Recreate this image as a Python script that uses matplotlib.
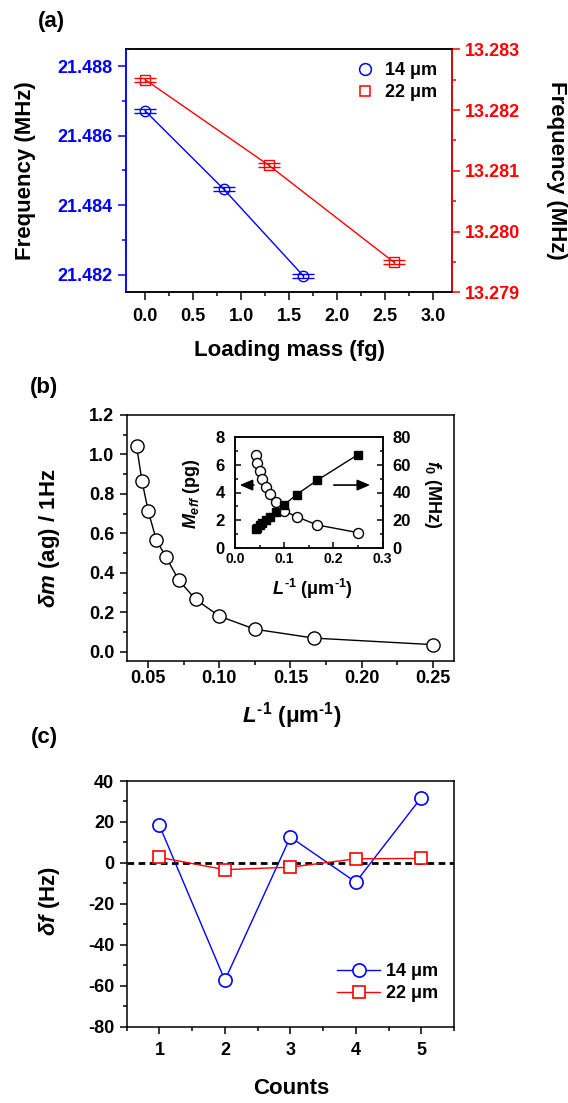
import matplotlib
matplotlib.use("Agg")
import matplotlib.pyplot as plt
from matplotlib.lines import Line2D
from matplotlib.ticker import MultipleLocator, FormatStrFormatter

plt.rcParams['font.family'] = ['Liberation Sans', 'DejaVu Sans']
plt.rcParams['font.weight'] = 'bold'
plt.rcParams['mathtext.fontset'] = 'custom'
plt.rcParams['mathtext.rm'] = 'Liberation Sans:bold'
plt.rcParams['mathtext.it'] = 'Liberation Sans:italic:bold'
plt.rcParams['mathtext.bf'] = 'Liberation Sans:bold'
plt.rcParams['axes.linewidth'] = 1.1
plt.rcParams['axes.unicode_minus'] = False

# ---- data ----
# (a) frequency vs loading mass
mass_14 = [0.0, 0.82, 1.65]
freq_14 = [21.48671, 21.48446, 21.48197]
mass_22 = [0.0, 1.29, 2.59]
freq_22 = [13.28250, 13.28109, 13.27950]
err_14 = 0.00006
err_22 = 0.000033

# (b) mass resolution vs inverse length
inv_len = [0.0417, 0.0455, 0.05, 0.0556, 0.0625, 0.0714, 0.0833, 0.1, 0.125, 0.1667, 0.25]
dm = [1.045, 0.867, 0.711, 0.567, 0.479, 0.363, 0.265, 0.180, 0.114, 0.069, 0.036]
m_eff = [6.72, 6.11, 5.56, 5.00, 4.42, 3.87, 3.31, 2.66, 2.25, 1.65, 1.09]
f0 = [13.2, 14.6, 16.2, 17.9, 20.1, 22.6, 25.7, 31.0, 38.5, 48.8, 67.5]

# (c) frequency shift per count
counts = [1, 2, 3, 4, 5]
df_14 = [18.3, -57.3, 12.6, -9.4, 31.9]
df_22 = [2.7, -3.3, -2.1, 2.0, 2.2]

BLUE = '#0000ff'
RED = '#ff0000'
W, H = 568, 1103
INV_L = r'$L^{\text{-1}}$ (μm$^{\text{-1}}$)'


def box(l, t, r, b):
    # pixel box -> figure fraction
    return [l / W, 1 - b / H, (r - l) / W, (b - t) / H]


def ftext(x, y, s, **kw):
    fig.text(x / W, 1 - y / H, s, ha='center', va='center', **kw)


fig = plt.figure(figsize=(W / 100, H / 100), dpi=100)

# ---------------- (a) ----------------
ax1 = fig.add_axes(box(126, 49.3, 452, 292.3))
ax1.plot(mass_14, freq_14, color=BLUE, lw=1.0)
ax1.errorbar(mass_14, freq_14, yerr=err_14, fmt='o', ms=7.5, mfc='none', mec=BLUE,
             mew=1.0, ecolor=BLUE, elinewidth=1.0, capsize=8, capthick=1.0)
ax1.set_xlim(-0.2, 3.2)
ax1.set_ylim(21.4815, 21.48848)
ax1.xaxis.set_major_locator(MultipleLocator(0.5))
ax1.xaxis.set_minor_locator(MultipleLocator(0.25))
ax1.yaxis.set_major_locator(MultipleLocator(0.002))
ax1.yaxis.set_minor_locator(MultipleLocator(0.001))
ax1.yaxis.set_major_formatter(FormatStrFormatter('%.3f'))
ax1.xaxis.set_major_formatter(FormatStrFormatter('%.1f'))
ax1.tick_params(which='both', direction='out', width=1.1, labelsize=13, top=False, right=False)
ax1.tick_params(which='major', length=5.5)
ax1.tick_params(which='minor', length=2.8)
ax1.tick_params(axis='x', pad=6)
ax1.tick_params(axis='y', which='both', colors=BLUE, pad=4)
ax1.spines['left'].set_color(BLUE)

ax1r = ax1.twinx()
ax1r.plot(mass_22, freq_22, color=RED, lw=1.0)
ax1r.errorbar(mass_22, freq_22, yerr=err_22, fmt='s', ms=7, mfc='none', mec=RED,
              mew=1.0, ecolor=RED, elinewidth=1.0, capsize=8, capthick=1.0)
ax1r.set_ylim(13.279, 13.283)
ax1r.yaxis.set_major_locator(MultipleLocator(0.001))
ax1r.yaxis.set_minor_locator(MultipleLocator(0.0005))
ax1r.yaxis.set_major_formatter(FormatStrFormatter('%.3f'))
ax1r.tick_params(which='both', direction='out', width=1.1, labelsize=13, colors=RED, pad=4)
ax1r.tick_params(which='major', length=5.5)
ax1r.tick_params(which='minor', length=2.8)
ax1r.spines['right'].set_color(RED)
ax1r.spines['left'].set_color(BLUE)

handles_a = [Line2D([], [], ls='none', marker='o', ms=8.5, mfc='none', mec=BLUE, mew=1.1),
             Line2D([], [], ls='none', marker='s', ms=7.5, mfc='none', mec=RED, mew=1.1)]
fig.legend(handles_a, ['14 μm', '22 μm'], loc='upper left',
           bbox_to_anchor=(356 / W, 1 - 62 / H), frameon=False, fontsize=13,
           handlelength=1.0, handletextpad=0.6, labelspacing=0.3, borderpad=0,
           borderaxespad=0)

ftext(51, 21, '(a)', fontsize=16)
ftext(25.5, 171, 'Frequency (MHz)', fontsize=16, rotation=90)
ftext(556, 170, 'Frequency (MHz)', fontsize=16, rotation=270)
ftext(290, 351, 'Loading mass (fg)', fontsize=16)

# ---------------- (b) ----------------
ax2 = fig.add_axes(box(126.7, 415, 454, 661))
ax2.plot(inv_len, dm, color='black', lw=1.0, marker='o', ms=9.5, mfc='white',
         mec='black', mew=1.0)
ax2.set_xlim(0.0348, 0.265)
ax2.set_ylim(-0.047, 1.2)
ax2.xaxis.set_major_locator(MultipleLocator(0.05))
ax2.xaxis.set_minor_locator(MultipleLocator(0.025))
ax2.yaxis.set_major_locator(MultipleLocator(0.2))
ax2.yaxis.set_minor_locator(MultipleLocator(0.1))
ax2.xaxis.set_major_formatter(FormatStrFormatter('%.2f'))
ax2.yaxis.set_major_formatter(FormatStrFormatter('%.1f'))
ax2.tick_params(which='both', direction='out', width=1.1, labelsize=13, top=False, right=False)
ax2.tick_params(which='major', length=5)
ax2.tick_params(which='minor', length=2.8)
ax2.tick_params(axis='x', pad=1.5)
ax2.tick_params(axis='y', pad=4)

ftext(44, 387, '(b)', fontsize=16)
ftext(50, 538, r'$\delta m$ (ag) / 1Hz', fontsize=16, rotation=90)
ftext(292, 716, INV_L, fontsize=16)

# inset
axi = fig.add_axes(box(235, 437.3, 382.7, 547.7))
axi.plot(inv_len, m_eff, color='black', lw=1.0, marker='o', ms=7.2, mfc='white',
         mec='black', mew=1.0, zorder=2)
axi.set_xlim(0, 0.3)
axi.set_ylim(0, 8)
axi.xaxis.set_major_locator(MultipleLocator(0.1))
axi.xaxis.set_minor_locator(MultipleLocator(0.05))
axi.yaxis.set_major_locator(MultipleLocator(2))
axi.yaxis.set_minor_locator(MultipleLocator(1))
axi.xaxis.set_major_formatter(FormatStrFormatter('%.1f'))
axi.tick_params(which='both', direction='in', width=1.1, top=False, right=False)
axi.tick_params(which='major', length=4)
axi.tick_params(which='minor', length=2.2)
axi.tick_params(axis='x', labelsize=10, pad=3)
axi.tick_params(axis='y', labelsize=12, pad=7.2)
axi.annotate('', xy=(0.004, 4.54), xytext=(0.044, 4.54),
             arrowprops=dict(arrowstyle='-|>,head_length=0.7,head_width=0.3',
                             color='black', lw=1.2, mutation_scale=11))

axir = axi.twinx()
axir.plot(inv_len, f0, color='black', lw=1.0, marker='s', ms=6.3, mfc='black',
          mec='black', mew=1.0, zorder=3)
axir.set_ylim(0, 80)
axir.yaxis.set_major_locator(MultipleLocator(20))
axir.yaxis.set_minor_locator(MultipleLocator(10))
axir.tick_params(which='both', direction='in', width=1.1, labelsize=12, pad=7.2)
axir.tick_params(which='major', length=4)
axir.tick_params(which='minor', length=2.2)
axir.annotate('', xy=(0.28, 45.4), xytext=(0.195, 45.4),
              arrowprops=dict(arrowstyle='-|>,head_length=0.7,head_width=0.3',
                              color='black', lw=1.2, mutation_scale=11))

ftext(192, 494, r'$M_{eff}$ (pg)', fontsize=13, rotation=90)
ftext(433, 494, r'$f_0$ (MHz)', fontsize=13, rotation=270)
ftext(312, 589, INV_L, fontsize=13)

# ---------------- (c) ----------------
ax3 = fig.add_axes(box(126.7, 781, 454, 1026.7))
ax3.axhline(0, color='black', lw=2.0, ls=(0, (2.4, 1.6)), zorder=1)
ax3.plot(counts, df_14, color=BLUE, lw=1.0, marker='o', ms=9.5, mfc='white',
         mec=BLUE, mew=1.2, label='14 μm', zorder=3)
ax3.plot(counts, df_22, color=RED, lw=1.0, marker='s', ms=8, mfc='white',
         mec=RED, mew=1.2, label='22 μm', zorder=3)
ax3.set_xlim(0.5, 5.5)
ax3.set_ylim(-80, 40)
ax3.xaxis.set_major_locator(MultipleLocator(1))
ax3.xaxis.set_minor_locator(MultipleLocator(0.5))
ax3.yaxis.set_major_locator(MultipleLocator(20))
ax3.yaxis.set_minor_locator(MultipleLocator(10))
ax3.tick_params(which='both', direction='out', width=1.1, labelsize=13, top=False, right=False)
ax3.tick_params(which='major', length=5)
ax3.tick_params(which='minor', length=2.8)
ax3.tick_params(axis='x', pad=6)
ax3.tick_params(axis='y', pad=4)
ax3.legend(loc='upper left', bbox_to_anchor=(337 / W, 1 - 963 / H),
           bbox_transform=fig.transFigure, frameon=False, fontsize=13,
           handlelength=2.4, handletextpad=0.3, labelspacing=0.3, borderpad=0,
           borderaxespad=0)

ftext(44, 737, '(c)', fontsize=16)
ftext(49, 901, r'$\delta f$ (Hz)', fontsize=16, rotation=90)
ftext(291, 1089, 'Counts', fontsize=16)

fig.savefig('out.png', dpi=100)
